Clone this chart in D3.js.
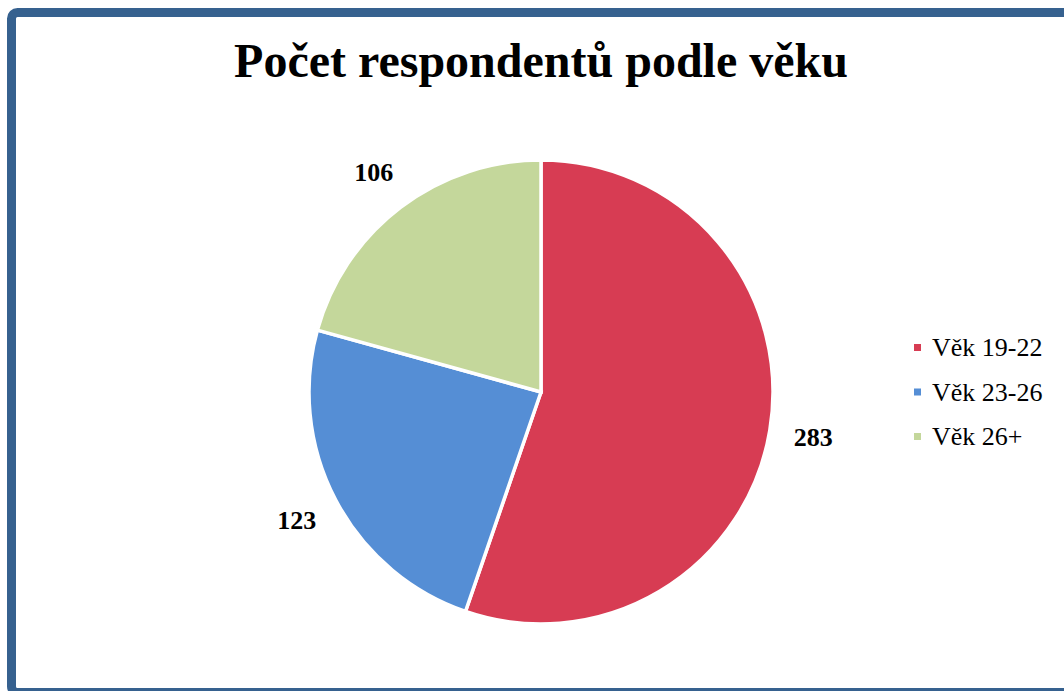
<!DOCTYPE html>
<html>
<head>
<meta charset="utf-8">
<script src="https://cdn.jsdelivr.net/npm/d3@7"></script>
<style>
  html, body { margin: 0; padding: 0; background: #fff; }
  svg { display: block; }
</style>
</head>
<body>
<div id="chart"></div>
<script>
const categories = ['Věk 19-22', 'Věk 23-26', 'Věk 26+']
const values = [283, 123, 106]
const colors = ['#D73C53', '#558ED5', '#C4D79B']
const title = 'Počet respondentů podle věku'

const width = 1064
const height = 691
const cx = 541, cy = 392, radius = 232

const svg = d3.select('#chart')
  .append('svg')
  .attr('width', width)
  .attr('height', height)

// chart frame (cut off on the right and bottom)
svg.append('rect')
  .attr('x', 11.5)
  .attr('y', 12.5)
  .attr('width', 1100)
  .attr('height', 680)
  .attr('rx', 6)
  .attr('fill', 'none')
  .attr('stroke', '#36618F')
  .attr('stroke-width', 9)

svg.append('text')
  .attr('x', cx)
  .attr('y', 77)
  .attr('text-anchor', 'middle')
  .style('font-family', '"Liberation Serif", "Times New Roman", serif')
  .style('font-weight', 'bold')
  .style('font-size', '48px')
  .text(title)

const color = d3.scaleOrdinal().domain(categories).range(colors)

const pie = d3.pie().sort(null).value(d => d.value)
const data = pie(categories.map((c, i) => ({ name: c, value: values[i] })))

const arc = d3.arc().innerRadius(0).outerRadius(radius)

const g = svg.append('g').attr('transform', 'translate(' + cx + ',' + cy + ')')

g.selectAll('path')
  .data(data)
  .enter()
  .append('path')
  .attr('d', arc)
  .attr('fill', d => color(d.data.name))
  .attr('stroke', '#fff')
  .attr('stroke-width', 3.5)
  .attr('stroke-linejoin', 'miter')

// value labels outside the pie
const labelArc = d3.arc().innerRadius(radius * 1.19).outerRadius(radius * 1.19)
g.selectAll('text.val')
  .data(data)
  .enter()
  .append('text')
  .attr('class', 'val')
  .attr('transform', d => 'translate(' + labelArc.centroid(d) + ')')
  .attr('text-anchor', 'middle')
  .attr('dy', '0.33em')
  .style('font-family', '"Liberation Serif", "Times New Roman", serif')
  .style('font-weight', 'bold')
  .style('font-size', '26px')
  .text(d => d.data.value)

// legend
const legend = svg.append('g').attr('transform', 'translate(914,347.5)')
const item = legend.selectAll('g')
  .data(categories)
  .enter()
  .append('g')
  .attr('transform', (d, i) => 'translate(0,' + i * 44.5 + ')')
item.append('rect')
  .attr('x', 0)
  .attr('y', -3.5)
  .attr('width', 7)
  .attr('height', 7)
  .attr('fill', d => color(d))
item.append('text')
  .attr('x', 18)
  .attr('dy', '0.33em')
  .style('font-family', '"Liberation Serif", "Times New Roman", serif')
  .style('font-size', '26px')
  .text(d => d)
</script>
</body>
</html>
